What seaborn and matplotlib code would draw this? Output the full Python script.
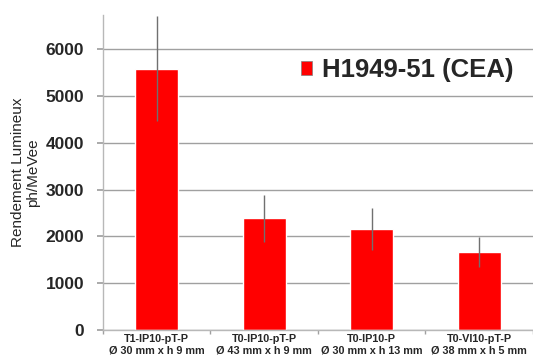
import matplotlib
matplotlib.use("Agg")
import matplotlib.pyplot as plt
import seaborn as sns
import pandas as pd
import numpy as np
from matplotlib.patches import Patch

categories = ["T1-IP10-pT-P\nØ 30 mm x h 9 mm",
              "T0-IP10-pT-P\nØ 43 mm x h 9 mm",
              "T0-IP10-P\nØ 30 mm x h 13 mm",
              "T0-VI10-pT-P\nØ 38 mm x h 5 mm"]
values = [5580, 2390, 2150, 1670]
errors = [1120, 500, 450, 320]
series_name = "H1949-51 (CEA)"
yticks = [0, 1000, 2000, 3000, 4000, 5000, 6000]

sns.set_theme(style="white")
plt.rcParams['font.family'] = ['Liberation Sans', 'DejaVu Sans']

df = pd.DataFrame({"cat": categories, "val": values, "err": errors})

fig = plt.figure(figsize=(5.33, 3.6), dpi=100)
ax = fig.add_axes([0.193, 0.0833, 0.807, 0.875])

sns.barplot(data=df, x="cat", y="val", color="#ff0000", saturation=1,
            width=0.4, errorbar=None, ax=ax, zorder=2)
ax.errorbar(np.arange(len(values)), df["val"], yerr=df["err"], fmt="none",
            ecolor="#707070", elinewidth=1.0, capsize=0, zorder=3)

ax.set_ylim(0, 6730)
ax.set_xlim(-0.5, len(values) - 0.5)
ax.set_yticks(yticks)
ax.set_yticklabels([str(t) for t in yticks], fontsize=12.5, fontweight="bold")
ax.set_xticks(range(len(categories)))
ax.set_xticklabels(categories, fontsize=7.8, fontweight="bold", linespacing=1.15)
ax.set_xticks(np.arange(-0.5, len(values), 1.0), minor=True)
ax.tick_params(axis="x", which="major", length=0, pad=3)
ax.tick_params(axis="x", which="minor", length=3, color="#a0a0a0", direction="out", bottom=True)
ax.tick_params(axis="y", length=4.5, color="#a0a0a0", direction="out", left=True, pad=9)

ax.yaxis.grid(True, color="#a0a0a0", linewidth=1)
ax.set_axisbelow(True)
for s in ["top", "right"]:
    ax.spines[s].set_visible(False)
for s in ["left", "bottom"]:
    ax.spines[s].set_color("#b8b8b8")
    ax.spines[s].set_linewidth(1)

ax.set_xlabel("")
ax.set_ylabel("Rendement Lumineux\nph/MeVee", fontsize=11, fontweight="normal",
              labelpad=4, multialignment="center", linespacing=1.05)

handle = Patch(facecolor="#ff0000", edgecolor="#808080", linewidth=0.5)
leg = ax.legend([handle], [series_name], loc="center right",
                bbox_to_anchor=(514 / 533, 1 - 70 / 360), bbox_transform=fig.transFigure,
                frameon=False, prop={"size": 18.5, "weight": "bold"},
                handlelength=0.42, handleheight=0.5, handletextpad=0.4,
                borderpad=0, borderaxespad=0)

fig.savefig("out.png", dpi=100, facecolor="white")
